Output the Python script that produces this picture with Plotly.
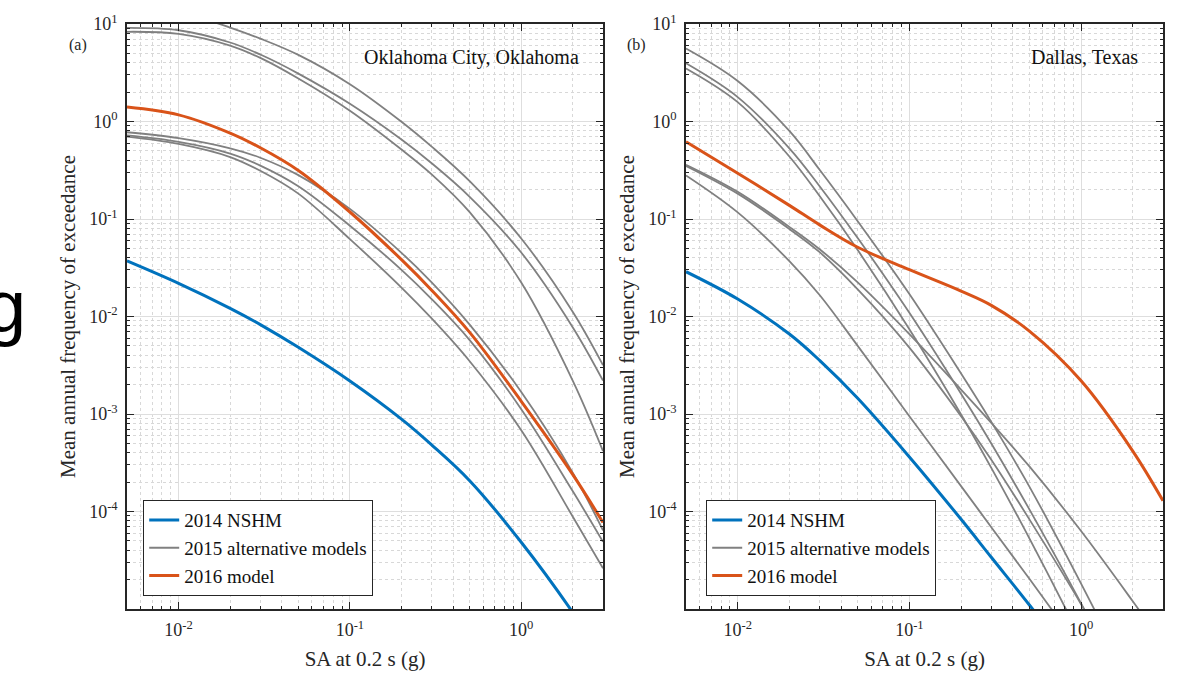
import plotly.graph_objects as go

# ---------------- data ----------------
SA = [0.005, 0.01, 0.02, 0.03, 0.05, 0.1, 0.2, 0.3, 0.5, 1.0, 2.0, 3.0]

# (a) Oklahoma City, Oklahoma
okc_nshm2014 = [0.0372, 0.0219, 0.01213, 0.00826, 0.00483, 0.00218, 8.85e-4, 4.82e-4, 2.07e-4, 4.84e-5, 9.2e-6, 3.08e-6]
okc_model2016 = [1.41, 1.17, 0.760, 0.538, 0.315, 0.118, 0.0383, 0.0186, 0.00687, 1.35e-3, 2.39e-4, 7.7e-5]
okc_alt_1 = [18.5, 13.5, 9.2, 7.08, 4.82, 2.41, 0.993, 0.552, 0.244, 0.0631, 0.01114, 3.17e-3]
okc_alt_2 = [9.12, 8.63, 6.46, 4.86, 3.10, 1.52, 0.653, 0.373, 0.169, 0.0453, 7.73e-3, 2.2e-3]
okc_alt_3 = [8.32, 7.93, 6.01, 4.49, 2.76, 1.29, 0.516, 0.287, 0.1175, 0.0223, 2.19e-3, 4.17e-4]
okc_alt_4 = [0.776, 0.676, 0.531, 0.425, 0.282, 0.127, 0.045, 0.0224, 0.00826, 1.68e-3, 2.49e-4, 6.4e-5]
okc_alt_5 = [0.719, 0.618, 0.469, 0.353, 0.217, 0.0853, 0.0301, 0.0151, 0.00573, 1.12e-3, 1.61e-4, 4.89e-5]
okc_alt_6 = [0.700, 0.589, 0.432, 0.312, 0.182, 0.0622, 0.0198, 0.00955, 0.00348, 6.82e-4, 8.83e-5, 2.62e-5]

# (b) Dallas, Texas
dal_nshm2014 = [0.0288, 0.0151, 6.61e-3, 3.55e-3, 1.45e-3, 3.63e-4, 8.32e-5, 3.39e-5, 1.10e-5, 2.24e-6, 4e-7, 1.26e-7]
dal_model2016 = [0.619, 0.295, 0.138, 0.0871, 0.0513, 0.0302, 0.0182, 0.0130, 0.00708, 0.00219, 4.17e-4, 1.29e-4]
dal_alt_1 = [5.6, 2.6, 0.80, 0.32, 0.095, 0.017, 2.6e-3, 8.3e-4, 1.8e-4, 1.82e-5, 1.6e-6, 3.5e-7]
dal_alt_2 = [3.95, 1.78, 0.53, 0.217, 0.0637, 0.0109, 1.61e-3, 4.98e-4, 1.05e-4, 1.14e-5, 1.08e-6, 2.3e-7]
dal_alt_3 = [3.5, 1.58, 0.438, 0.172, 0.048, 7.4e-3, 9.9e-4, 2.8e-4, 5.3e-5, 4.9e-6, 4e-7, 8e-8]
dal_alt_4 = [0.36, 0.19, 0.083, 0.049, 0.0224, 6.6e-3, 1.78e-3, 8.1e-4, 2.9e-4, 6.3e-5, 1.2e-5, 4.4e-6]
dal_alt_5 = [0.35, 0.182, 0.079, 0.0457, 0.019, 4.8e-3, 9.5e-4, 3.4e-4, 8.3e-5, 1.12e-5, 1.26e-6, 3.2e-7]
dal_alt_6 = [0.28, 0.117, 0.037, 0.0166, 5.0e-3, 9.5e-4, 1.82e-4, 6.9e-5, 2.04e-5, 3.8e-6, 7e-7, 2.5e-7]

x_tick_vals = [0.01, 0.1, 1]
x_tick_text = ["10<sup>-2</sup>", "10<sup>-1</sup>", "10<sup>0</sup>"]
y_tick_vals = [1e-4, 1e-3, 1e-2, 1e-1, 1, 10]
y_tick_text = ["10<sup>-4</sup>", "10<sup>-3</sup>", "10<sup>-2</sup>",
               "10<sup>-1</sup>", "10<sup>0</sup>", "10<sup>1</sup>"]

panel_labels = ["(a)", "(b)"]
site_names = ["Oklahoma City, Oklahoma", "Dallas, Texas"]
legend_names = ["2014 NSHM", "2015 alternative models", "2016 model"]

# ---------------- styling ----------------
BLUE = "#0072BD"
ORANGE = "#D95319"
GRAY = "#808080"
FONT = "Liberation Serif"
AXCOL = "#262626"

fig = go.Figure()

panels = [
    ("x", "y", "legend", okc_nshm2014, okc_model2016,
     [okc_alt_1, okc_alt_2, okc_alt_3, okc_alt_4, okc_alt_5, okc_alt_6]),
    ("x2", "y2", "legend2", dal_nshm2014, dal_model2016,
     [dal_alt_1, dal_alt_2, dal_alt_3, dal_alt_4, dal_alt_5, dal_alt_6]),
]

for xa, ya, leg, nshm, m2016, alts in panels:
    for i, alt in enumerate(alts):
        fig.add_trace(go.Scatter(
            x=SA, y=alt, xaxis=xa, yaxis=ya, mode="lines",
            line=dict(color=GRAY, width=1.8, shape="spline", smoothing=1.0),
            name=legend_names[1], legend=leg, legendrank=2,
            showlegend=(i == 0), hoverinfo="skip"))
    fig.add_trace(go.Scatter(
        x=SA, y=nshm, xaxis=xa, yaxis=ya, mode="lines",
        line=dict(color=BLUE, width=3, shape="spline", smoothing=1.0),
        name=legend_names[0], legend=leg, legendrank=1, hoverinfo="skip"))
    fig.add_trace(go.Scatter(
        x=SA, y=m2016, xaxis=xa, yaxis=ya, mode="lines",
        line=dict(color=ORANGE, width=3, shape="spline", smoothing=1.0),
        name=legend_names[2], legend=leg, legendrank=3, hoverinfo="skip"))

# minor tick positions (2..9 in each decade)
x_minor = [m * 10 ** e for e in range(-3, 1) for m in range(2, 10)]
y_minor = [m * 10 ** e for e in range(-5, 1) for m in range(2, 10)]

L, R, T, B = 127, 18, 24, 70
W, H = 1181, 679
plot_w = W - L - R
plot_h = H - T - B
d1 = [0, (603 - L) / plot_w]
d2 = [(686 - L) / plot_w, 1]

def xaxis_style(domain, anchor):
    return dict(
        type="log", domain=domain, anchor=anchor,
        range=[-2.30103, 0.47712],
        tickmode="array", tickvals=x_tick_vals, ticktext=x_tick_text,
        ticks="inside", ticklen=7, tickwidth=1, tickcolor=AXCOL,
        showline=True, linecolor=AXCOL, linewidth=1.5, mirror="allticks",
        showgrid=True, gridcolor="#dedede", gridwidth=1.2,
        zeroline=False,
        tickfont=dict(family=FONT, size=18, color=AXCOL),
        title=dict(text="SA at 0.2 s (g)", font=dict(family=FONT, size=21, color=AXCOL),
                   standoff=12),
        ticklabelstandoff=4,
        minor=dict(tickmode="array", tickvals=x_minor, ticks="inside", ticklen=3,
                   tickcolor=AXCOL, showgrid=True, gridcolor="#d8d8d8",
                   griddash="dot", gridwidth=1),
    )

def yaxis_style(anchor):
    return dict(
        type="log", domain=[0, 1], anchor=anchor,
        range=[-5, 1],
        tickmode="array", tickvals=y_tick_vals, ticktext=y_tick_text,
        ticks="inside", ticklen=7, tickwidth=1, tickcolor=AXCOL,
        showline=True, linecolor=AXCOL, linewidth=1.5, mirror="allticks",
        showgrid=True, gridcolor="#dedede", gridwidth=1.2,
        zeroline=False,
        tickfont=dict(family=FONT, size=18, color=AXCOL),
        title=dict(text="Mean annual frequency of exceedance",
                   font=dict(family=FONT, size=21, color=AXCOL), standoff=8),
        ticklabelstandoff=4,
        minor=dict(tickmode="array", tickvals=y_minor, ticks="inside", ticklen=3,
                   tickcolor=AXCOL, showgrid=True, gridcolor="#d8d8d8",
                   griddash="dot", gridwidth=1),
    )

legend_common = dict(
    xanchor="left", yanchor="bottom", bgcolor="white",
    bordercolor=AXCOL, borderwidth=1.2,
    font=dict(family=FONT, size=19, color="#111111"),
    tracegroupgap=0, itemwidth=30, traceorder="normal",
)

fig.update_layout(
    width=W, height=H,
    margin=dict(l=L, r=R, t=T, b=B, autoexpand=False),
    paper_bgcolor="white", plot_bgcolor="white",
    showlegend=True,
    xaxis=xaxis_style(d1, "y"),
    yaxis=yaxis_style("x"),
    xaxis2=xaxis_style(d2, "y2"),
    yaxis2=yaxis_style("x2"),
    legend=dict(x=(143 - L) / plot_w, y=1 - (596 - T) / plot_h, **legend_common),
    legend2=dict(x=(706 - L) / plot_w, y=1 - (596 - T) / plot_h, **legend_common),
)

annots = []
for k, xpix in enumerate([78, 636]):
    annots.append(dict(
        text=panel_labels[k], xref="paper", yref="paper",
        x=(xpix - L) / plot_w, y=1 - (45 - T) / plot_h,
        xanchor="center", yanchor="middle", showarrow=False,
        font=dict(family=FONT, size=16, color=AXCOL)))
annots.append(dict(text=site_names[0], xref="x domain", yref="y domain",
                   x=(581 - 127) / 476, y=1 - (57 - T) / plot_h, xanchor="right", yanchor="middle",
                   showarrow=False, font=dict(family=FONT, size=20, color="#111111")))
annots.append(dict(text=site_names[1], xref="x2 domain", yref="y2 domain",
                   x=(1140 - 686) / 477, y=1 - (57 - T) / plot_h, xanchor="right", yanchor="middle",
                   showarrow=False, font=dict(family=FONT, size=20, color="#111111")))
# stray glyph cut at the left border of the reference image
annots.append(dict(text="g", xref="paper", yref="paper",
                   x=(5 - L) / plot_w, y=1 - (306 - T) / plot_h,
                   xanchor="center", yanchor="middle", showarrow=False,
                   font=dict(family="Liberation Sans", size=74, color="black")))
fig.update_layout(annotations=annots)

fig.write_html("out.html", config={"displayModeBar": False},
               post_script="document.body.style.margin='0px';")
